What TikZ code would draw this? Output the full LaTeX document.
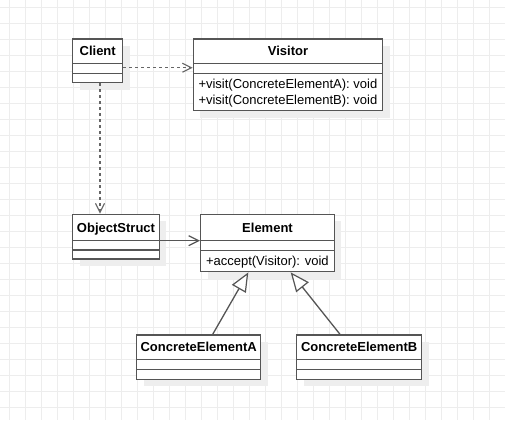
\documentclass[tikz,border=0pt]{standalone}
\usepackage{fontspec}
\setmainfont{Liberation Sans}
\usetikzlibrary{arrows.meta,calc}
\definecolor{umlline}{HTML}{555555}
\definecolor{depline}{HTML}{666666}
\definecolor{gridc}{HTML}{EDEDED}
\definecolor{shadowc}{HTML}{EEEEEE}
\tikzset{
  gridline/.style={draw=gridc, line width=1pt},
  classbox/.style={draw=umlline, line width=1.4pt, fill=white, rectangle, inner sep=0pt},
  sepline/.style={draw=umlline, line width=1.4pt},
  title/.style={font=\fontsize{13}{15}\selectfont\bfseries, anchor=base, inner sep=0pt},
  member/.style={font=\fontsize{13}{15}\selectfont, anchor=base west, inner sep=0pt},
  dep/.style={draw=depline, line width=1.2pt, dash pattern=on 3pt off 3pt, -{Straight Barb[length=9pt,width=9pt,line width=1.1pt]}},
  assoc/.style={draw=umlline, line width=1.3pt, -{Straight Barb[length=10pt,width=10pt,line width=1.2pt]}},
  inherit/.style={draw=umlline, line width=1.3pt, -{Triangle[open,length=19pt,width=16pt,line width=1.2pt,fill=white]}},
}
\begin{document}
\begin{tikzpicture}[x=1pt,y=1pt]
\useasboundingbox (0,0) rectangle (505,-420);
\fill[white] (0,0) rectangle (505,-420);
% grid
\foreach \k in {0,...,31} { \draw[gridline] ({9.3+16*\k},0) -- ++(0,-420); }
\foreach \k in {0,...,26} { \draw[gridline] (0,{-7.3-16*\k}) -- ++(505,0); }
% shadows
\fill[shadowc] (79.7,-46) rectangle (129.7,-89.7);
\fill[shadowc] (200.3,-46) rectangle (389.7,-117.7);
\fill[shadowc] (79.7,-221.3) rectangle (166.3,-266);
\fill[shadowc] (207.7,-221.3) rectangle (341.3,-278.7);
\fill[shadowc] (143.7,-342) rectangle (267.7,-386.3);
\fill[shadowc] (303.7,-342) rectangle (428.7,-386.3);
% Client
\node[classbox, minimum width=50pt, minimum height=43.7pt] (client) at (97.7,-60.85) {};
\draw[sepline] (72.7,-63.3) -- (122.7,-63.3);
\draw[sepline] (72.7,-73.3) -- (122.7,-73.3);
\node[title] (clientT) at (97.7,-55.8) {Client};
% Visitor
\node[classbox, minimum width=189.4pt, minimum height=71.7pt] (visitor) at (288,-74.85) {};
\draw[sepline] (193.3,-63.3) -- (382.7,-63.3);
\draw[sepline] (193.3,-73.3) -- (382.7,-73.3);
\node[title] (visitorT) at (288,-55.8) {Visitor};
\node[member] (visitorM1) at (198.3,-88.6) {+visit(ConcreteElementA): void};
\node[member] (visitorM2) at (198.3,-104.6) {+visit(ConcreteElementB): void};
% ObjectStruct
\node[classbox, minimum width=86.6pt, minimum height=44.7pt] (objs) at (116,-236.65) {};
\draw[sepline] (72.7,-240.7) -- (159.3,-240.7);
\draw[sepline] (72.7,-250) -- (159.3,-250);
\node[title] (objsT) at (116,-232.2) {ObjectStruct};
% Element
\node[classbox, minimum width=133.6pt, minimum height=57.4pt] (elem) at (267.5,-243) {};
\draw[sepline] (200.7,-240.7) -- (334.3,-240.7);
\draw[sepline] (200.7,-250.3) -- (334.3,-250.3);
\node[title] (elemT) at (267.5,-232.2) {Element};
\node[member] (elemM) at (205.8,-265.3) {+accept(Visitor): void};
% ConcreteElementA
\node[classbox, minimum width=124pt, minimum height=44.3pt] (cea) at (198.7,-357.15) {};
\draw[sepline] (136.7,-359.3) -- (260.7,-359.3);
\draw[sepline] (136.7,-369.3) -- (260.7,-369.3);
\node[title] (ceaT) at (198.7,-351.8) {ConcreteElementA};
% ConcreteElementB
\node[classbox, minimum width=125pt, minimum height=44.3pt] (ceb) at (359.2,-357.15) {};
\draw[sepline] (296.7,-359.3) -- (421.7,-359.3);
\draw[sepline] (296.7,-369.3) -- (421.7,-369.3);
\node[title] (cebT) at (359.2,-351.8) {ConcreteElementB};
% connectors
\draw[dep] ([yshift=-6.85pt]client.east) -- ([yshift=-6.85pt]client.east -| visitor.west);
\draw[dep] ([xshift=2.3pt]client.south) -- ([xshift=2.3pt]client.south |- objs.north);
\draw[assoc] ([yshift=-4.05pt]objs.east) -- ([yshift=-4.05pt]objs.east -| elem.west);
\draw[inherit] ([xshift=14pt]cea.north) -- ([xshift=-19.2pt]elem.south);
\draw[inherit] ([xshift=-19.2pt]ceb.north) -- ([xshift=23.2pt]elem.south);
\end{tikzpicture}
\end{document}
